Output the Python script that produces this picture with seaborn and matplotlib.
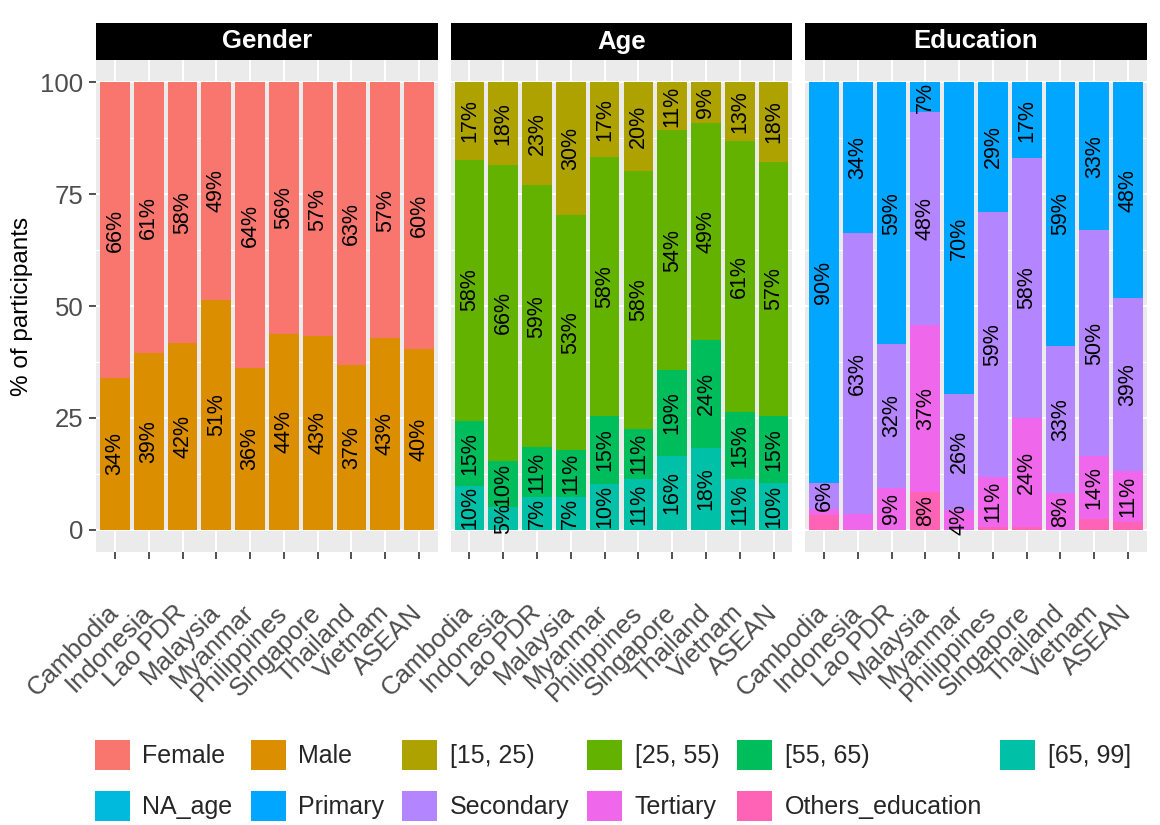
import numpy as np
import pandas as pd
import matplotlib
matplotlib.use("Agg")
import matplotlib.pyplot as plt
import seaborn as sns
from matplotlib.patches import Patch

# ---------------- data (% of participants) ----------------
countries = ["Cambodia", "Indonesia", "Lao PDR", "Malaysia", "Myanmar",
             "Philippines", "Singapore", "Thailand", "Vietnam", "ASEAN"]

gender_male = [33.8, 39.4, 41.8, 51.4, 36.2, 43.8, 43.2, 36.7, 42.8, 40.4]
gender_female = [66.2, 60.6, 58.2, 48.6, 63.8, 56.2, 56.8, 63.3, 57.2, 59.6]

age_65_99 = [9.8, 5.0, 7.3, 7.2, 10.3, 11.4, 16.4, 18.3, 11.4, 10.4]
age_55_65 = [14.6, 10.4, 11.1, 10.6, 15.1, 11.2, 19.3, 24.1, 14.8, 15.0]
age_25_55 = [58.3, 66.2, 58.6, 52.6, 57.9, 57.6, 53.6, 48.6, 60.6, 56.9]
age_15_25 = [17.3, 18.4, 23.0, 29.6, 16.7, 19.8, 10.7, 9.0, 13.2, 17.7]

edu_others = [3.3, 0.0, 0.0, 8.4, 0.0, 0.6, 0.6, 0.0, 2.3, 1.8]
edu_tertiary = [1.4, 3.4, 9.4, 37.4, 4.4, 11.2, 24.4, 8.3, 14.2, 11.4]
edu_secondary = [5.7, 63.0, 32.0, 47.6, 26.0, 59.3, 58.0, 32.8, 50.4, 38.6]
edu_primary = [89.6, 33.6, 58.6, 6.6, 69.6, 28.9, 17.0, 58.9, 33.1, 48.2]

legend_labels = ["Female", "Male", "[15, 25)", "[25, 55)", "[55, 65)", "[65, 99]",
                 "NA_age", "Primary", "Secondary", "Tertiary", "Others_education"]
palette = ["#F8766D", "#DB8E00", "#AEA200", "#64B200", "#00BD5C", "#00C1A7",
           "#00BADE", "#00A6FF", "#B385FF", "#EF67EB", "#FF63B6"]
col = dict(zip(legend_labels, palette))

facets = [
    ("Gender", [("Male", gender_male), ("Female", gender_female)]),
    ("Age", [("[65, 99]", age_65_99), ("[55, 65)", age_55_65),
             ("[25, 55)", age_25_55), ("[15, 25)", age_15_25)]),
    ("Education", [("Others_education", edu_others), ("Tertiary", edu_tertiary),
                   ("Secondary", edu_secondary), ("Primary", edu_primary)]),
]

# ---------------- style ----------------
sns.set_style("white")
plt.rcParams["font.family"] = ["Liberation Sans", "DejaVu Sans"]

W, H = 1160, 825
fig = plt.figure(figsize=(W / 100, H / 100), dpi=100)


def rect(x0, y0, x1, y1):
    return [x0 / W, 1 - y1 / H, (x1 - x0) / W, (y1 - y0) / H]


panel_x = [(96, 438), (450.5, 792.5), (805, 1147)]
ptop, pbot = 60, 552
strip_top = 23

TXT = "#4D4D4D"

for i, (title, layers) in enumerate(facets):
    x0, x1 = panel_x[i]
    ax = fig.add_axes(rect(x0, ptop, x1, pbot))
    ax.set_facecolor("#EBEBEB")
    vals = np.array([v for _, v in layers], dtype=float)
    cum = np.cumsum(vals, axis=0)
    # draw from top layer down so each lower layer covers the one above
    for k in range(len(layers) - 1, -1, -1):
        name = layers[k][0]
        sns.barplot(x=countries, y=cum[k], order=countries, color=col[name],
                    saturation=1, width=0.88, linewidth=0, errorbar=None,
                    ax=ax, zorder=3)
    # labels
    for k in range(len(layers)):
        for j in range(len(countries)):
            v = vals[k, j]
            if v < 3.5:
                continue
            ax.text(j, cum[k, j] - v / 2, f"{int(np.floor(v + 0.5))}%",
                    rotation=90, ha="center", va="center", fontsize=15.5,
                    color="black", zorder=5)
    ax.set_xlim(-0.56, 9.56)
    ax.set_ylim(-5, 105)
    ax.set_yticks([0, 25, 50, 75, 100])
    ax.set_yticks([12.5, 37.5, 62.5, 87.5], minor=True)
    ax.set_xticks(range(len(countries)))
    ax.grid(True, which="major", color="white", linewidth=1.5, zorder=0)
    ax.grid(True, which="minor", axis="y", color="white", linewidth=0.75, zorder=0)
    ax.set_axisbelow(True)
    for s in ax.spines.values():
        s.set_visible(False)
    ax.set_xlabel("")
    ax.set_ylabel("")
    ax.tick_params(axis="x", which="major", length=5, width=1.2, color="#333333",
                   pad=36, labelsize=18.5, labelcolor=TXT, bottom=True)
    ax.tick_params(axis="y", which="minor", length=0)
    ax.set_xticklabels(countries)
    for lab in ax.get_xticklabels():
        lab.set_rotation(45)
        lab.set_ha("right")
        lab.set_va("center")
        lab.set_rotation_mode("anchor")
    if i == 0:
        ax.tick_params(axis="y", which="major", length=5, width=1.2, color="#333333",
                       pad=4, labelsize=18.5, labelcolor=TXT, left=True)
    else:
        ax.tick_params(axis="y", which="major", length=0, labelleft=False)
    # strip
    sax = fig.add_axes(rect(x0, strip_top, x1, ptop))
    sax.set_facecolor("black")
    sax.set_xticks([])
    sax.set_yticks([])
    for s in sax.spines.values():
        s.set_visible(False)
    sax.text(0.5, 0.5, title, color="white", fontsize=18.5, fontweight="bold",
             ha="center", va="center", transform=sax.transAxes)

fig.text(22 / W, 1 - 306 / H, "% of participants", rotation=90, ha="center",
         va="center", fontsize=17.5, color="black")

# legend: ggplot fills row-wise (6 columns, 2 rows); matplotlib fills column-wise
order = [0, 6, 1, 7, 2, 8, 3, 9, 4, 10, 5]
handles = [Patch(facecolor=palette[o], edgecolor="none") for o in order]
labels = [legend_labels[o] for o in order]
fig.legend(handles, labels, ncol=6, loc="upper left",
           bbox_to_anchor=(95 / W, 1 - 740 / H), frameon=False, fontsize=18,
           handlelength=1.4, handleheight=1.46, handletextpad=0.5,
           columnspacing=0.72, labelspacing=0.85, borderpad=0, borderaxespad=0)

fig.savefig("out.png", dpi=100)
